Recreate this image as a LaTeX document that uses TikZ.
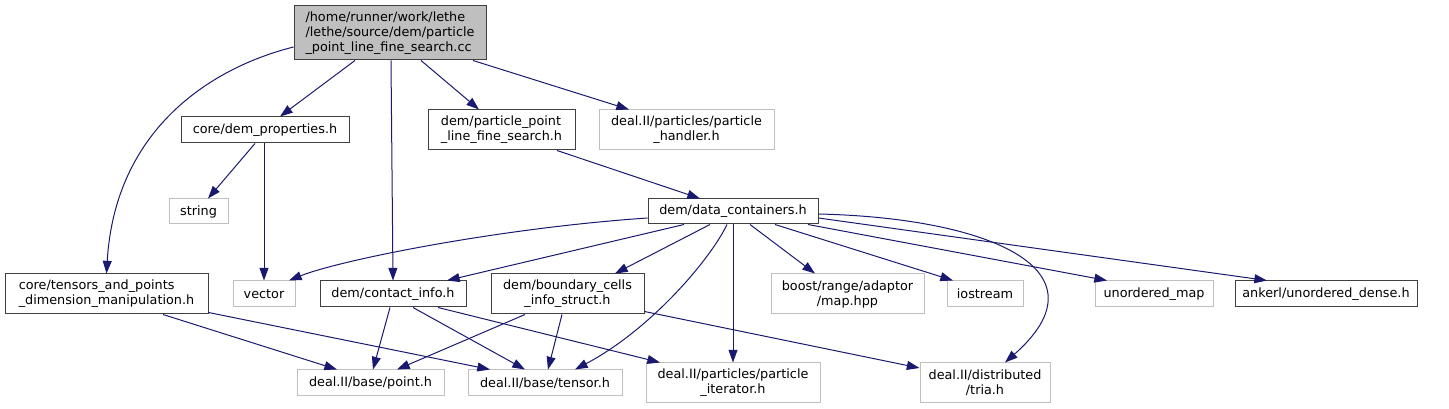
\documentclass[tikz,border=0pt]{standalone}
\usepackage{fontspec}
\setmainfont{DejaVu Sans}
\usetikzlibrary{arrows.meta,calc}
\definecolor{edgec}{HTML}{191970}
\definecolor{gborder}{HTML}{BFBFBF}
\definecolor{dborder}{HTML}{404040}
\definecolor{rootfill}{HTML}{BFBFBF}
\begin{document}
\begin{tikzpicture}[x=0.75pt,y=-0.75pt,
  box/.style={draw, line width=0.75pt, inner sep=0pt, font=\fontsize{9.6}{11.25}\selectfont, text=black},
  dbox/.style={box, draw=dborder, fill=white},
  gbox/.style={box, draw=gborder, fill=white},
  rbox/.style={box, draw=dborder, fill=rootfill},
  dep/.style={draw=edgec, line width=0.75pt, -{Triangle[length=9.5pt,width=6.7pt]}, fill=none},
]
\useasboundingbox (0,0) rectangle (1449,409);
% nodes
\node[rbox, align=left, minimum width=192*0.75pt, minimum height=54*0.75pt] (root) at (390,33) {/home/runner/work/lethe\\/lethe/source/dem/particle\\\_point\_line\_fine\_search.cc};
\node[dbox, minimum width=168*0.75pt, minimum height=26*0.75pt] (props) at (265,130) {core/dem\_properties.h};
\node[dbox, align=left, minimum width=147*0.75pt, minimum height=40*0.75pt] (pplfs) at (501.5,130) {dem/particle\_point\\\_line\_fine\_search.h};
\node[gbox, align=center, minimum width=175*0.75pt, minimum height=40*0.75pt] (handler) at (686.5,130) {deal.II/particles/particle\\\_handler.h};
\node[gbox, minimum width=59*0.75pt, minimum height=25*0.75pt] (string) at (198.5,211.5) {string};
\node[dbox, minimum width=170*0.75pt, minimum height=25*0.75pt] (datac) at (733,211.5) {dem/data\_containers.h};
\node[dbox, align=left, minimum width=203*0.75pt, minimum height=40*0.75pt] (tensors) at (106.5,294) {core/tensors\_and\_points\\\_dimension\_manipulation.h};
\node[gbox, minimum width=62*0.75pt, minimum height=26*0.75pt] (vector) at (264,294) {vector};
\node[dbox, minimum width=146*0.75pt, minimum height=26*0.75pt] (contact) at (393,294) {dem/contact\_info.h};
\node[dbox, align=center, minimum width=153*0.75pt, minimum height=40*0.75pt] (boundary) at (567.5,294) {dem/boundary\_cells\\\_info\_struct.h};
\node[gbox, align=center, minimum width=153*0.75pt, minimum height=40*0.75pt] (boost) at (847.5,294) {boost/range/adaptor\\/map.hpp};
\node[gbox, minimum width=76*0.75pt, minimum height=26*0.75pt] (iostream) at (985,294) {iostream};
\node[gbox, minimum width=118*0.75pt, minimum height=26*0.75pt] (umap) at (1154,294) {unordered\_map};
\node[dbox, minimum width=182*0.75pt, minimum height=26*0.75pt] (ankerl) at (1326,294) {ankerl/unordered\_dense.h};
\node[gbox, minimum width=147*0.75pt, minimum height=26*0.75pt] (point) at (370.5,383) {deal.II/base/point.h};
\node[gbox, minimum width=154*0.75pt, minimum height=26*0.75pt] (tensor) at (545,383) {deal.II/base/tensor.h};
\node[gbox, align=center, minimum width=174*0.75pt, minimum height=40*0.75pt] (piter) at (733,383) {deal.II/particles/particle\\\_iterator.h};
\node[gbox, align=center, minimum width=130*0.75pt, minimum height=40*0.75pt] (tria) at (985,383) {deal.II/distributed\\/tria.h};
% edges from root
\draw[dep] ($(root.west)+(0,14)$) .. controls (210,68) and (115,130) .. (tensors.north);
\draw[dep] ($(root.south)+(-35,0)$) -- ($(props.north)+(15,0)$);
\draw[dep] ($(root.south)+(1,0)$) -- (contact.north);
\draw[dep] ($(root.south)+(31,0)$) -- ($(pplfs.north)+(-22.5,0)$);
\draw[dep] ($(root.south)+(83,0)$) -- ($(handler.north)+(-57.5,0)$);
% props
\draw[dep] ($(props.south)+(-10,0)$) -- ($(string.north)+(9.5,0)$);
\draw[dep] ($(props.south)+(-1,0)$) -- ($(vector.north)+(0,0)$);
% pplfs
\draw[dep] ($(pplfs.south)+(55.5,0)$) -- ($(datac.north)+(-33,0)$);
% datac
\draw[dep] ($(datac.west)+(0,6.5)$) .. controls (500,228) and (340,260) .. ($(vector.north)+(25,0)$);
\draw[dep] ($(datac.south)+(-49,0)$) -- ($(contact.north)+(54,0)$);
\draw[dep] ($(datac.south)+(-23,0)$) -- ($(boundary.north)+(47.5,0)$);
\draw[dep] ($(datac.south)+(-6,0)$) .. controls (710,260) and (650,330) .. ($(tensor.north)+(30,0)$);
\draw[dep] (datac.south) -- (piter.north);
\draw[dep] ($(datac.south)+(17,0)$) -- ($(boost.north)+(-32.5,0)$);
\draw[dep] ($(datac.south)+(42,0)$) -- ($(iostream.north)+(-32,0)$);
\draw[dep] ($(datac.south)+(75,0)$) -- ($(umap.north)+(-47,0)$);
\draw[dep] ($(datac.east)+(0,6.5)$) -- ($(ankerl.north)+(-59,0)$);
\draw[dep] ($(datac.east)+(0,2.5)$) .. controls (990,218) and (1110,270) .. ($(tria.north)+(20,0)$);
% tensors
\draw[dep] ($(tensors.south)+(56.5,0)$) -- ($(point.north)+(-33.5,0)$);
\draw[dep] ($(tensors.south east)+(0,-2)$) -- ($(tensor.north)+(-55,0)$);
% contact
\draw[dep] ($(contact.south)+(-3,0)$) -- ($(point.north)+(2.5,0)$);
\draw[dep] ($(contact.south)+(20,0)$) -- ($(tensor.north)+(-20,0)$);
\draw[dep] ($(contact.south)+(45,0)$) -- ($(piter.north)+(-73,0)$);
% boundary
\draw[dep] ($(boundary.south)+(-42.5,0)$) -- ($(point.north)+(26.5,0)$);
\draw[dep] ($(boundary.south)+(-5.5,0)$) -- ($(tensor.north)+(3,0)$);
\draw[dep] ($(boundary.south east)+(0,-3)$) -- ($(tria.west)+(0,-15)$);
\end{tikzpicture}
\end{document}
